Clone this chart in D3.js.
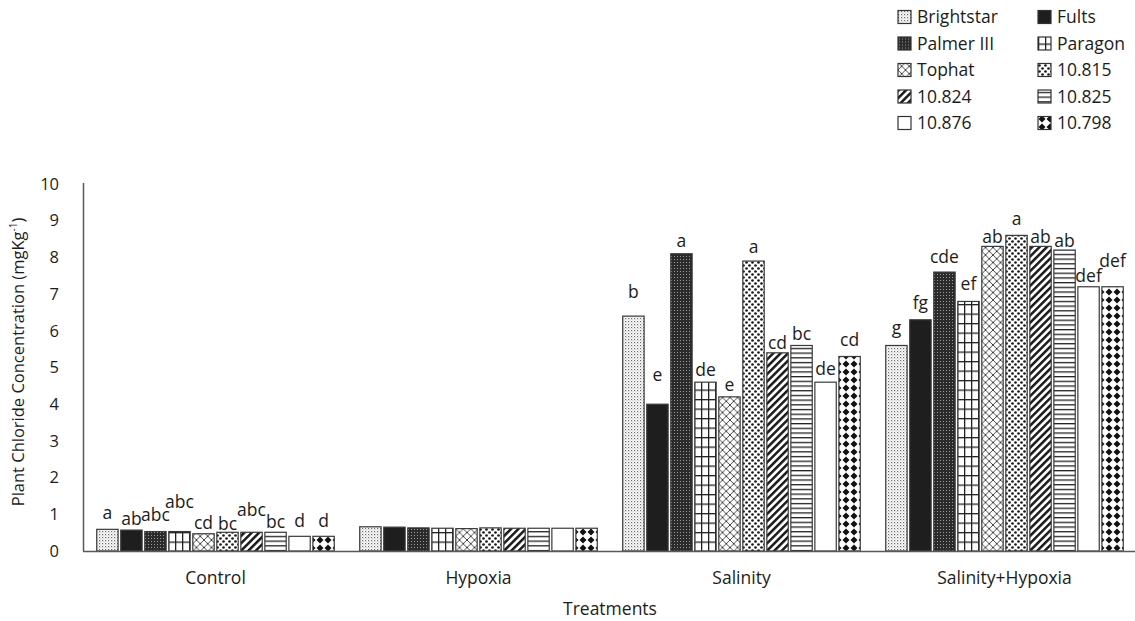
<!DOCTYPE html>
<html>
<head>
<meta charset="utf-8">
<script src="https://cdn.jsdelivr.net/npm/d3@7/dist/d3.min.js"></script>
<style>
  html, body { margin: 0; padding: 0; background: #fff; }
  svg { display: block; font-family: "Open Sans", "Noto Sans", sans-serif; }
</style>
</head>
<body>
<svg id="chart" width="1135" height="621"></svg>
<script>
// Treatments (x-axis groups) and cultivars (bars within each group)
const treatments = ["Control", "Hypoxia", "Salinity", "Salinity+Hypoxia"];
const cultivars = ["Brightstar", "Fults", "Palmer III", "Paragon", "Tophat",
                   "10.815", "10.824", "10.825", "10.876", "10.798"];

// Plant chloride concentration (mg kg-1), one array per treatment, in cultivar order
const controlValues  = [0.59, 0.57, 0.53, 0.53, 0.47, 0.51, 0.51, 0.51, 0.40, 0.40];
const hypoxiaValues  = [0.66, 0.65, 0.63, 0.62, 0.61, 0.63, 0.62, 0.62, 0.62, 0.62];
const salinityValues = [6.4, 4.0, 8.1, 4.6, 4.2, 7.9, 5.4, 5.6, 4.6, 5.3];
const salHypValues   = [5.6, 6.3, 7.6, 6.8, 8.3, 8.6, 8.3, 8.2, 7.2, 7.2];

// Mean separation letters
const controlLetters  = ["a", "ab", "abc", "abc", "cd", "bc", "abc", "bc", "d", "d"];
const hypoxiaLetters  = ["", "", "", "", "", "", "", "", "", ""];
const salinityLetters = ["b", "e", "a", "de", "e", "a", "cd", "bc", "de", "cd"];
const salHypLetters   = ["g", "fg", "cde", "ef", "ab", "a", "ab", "ab", "def", "def"];

const yTicks = [0, 1, 2, 3, 4, 5, 6, 7, 8, 9, 10];

// Layout: how far each letter sits above its bar (px), per treatment
const letterRaise = [
  [16, 11, 17, 30, 11, 8, 22, 10, 15, 15],
  [0, 0, 0, 0, 0, 0, 0, 0, 0, 0],
  [24, 29, 13, 12, 12, 14, 10, 12, 13, 17],
  [18, 17, 15, 18, 10, 17, 10, 9, 11, 26]
];

const valuesByTreatment = [controlValues, hypoxiaValues, salinityValues, salHypValues];
const lettersByTreatment = [controlLetters, hypoxiaLetters, salinityLetters, salHypLetters];

const rows = treatments.map((t, i) => ({
  treatment: t,
  bars: cultivars.map((c, j) => ({
    cultivar: c, idx: j,
    value: valuesByTreatment[i][j],
    letter: lettersByTreatment[i][j],
    raise: letterRaise[i][j]
  }))
}));

const svg = d3.select("#chart");
const plotLeft = 84, plotRight = 1136, plotTop = 184, plotBottom = 551;
const ink = "#1c1c1c";

const x0 = d3.scaleBand().domain(treatments).range([plotLeft, plotRight]).padding(0);
const x1 = d3.scaleBand().domain(cultivars).range([0, x0.bandwidth()])
  .paddingInner(0.11).paddingOuter(0.53);
const y = d3.scaleLinear().domain([0, 10]).range([plotBottom, plotTop]);

// ---- fill patterns, one per cultivar ----
const defs = svg.append("defs");
function pat(id, w, h, extra) {
  const p = defs.append("pattern").attr("id", id)
    .attr("patternUnits", "userSpaceOnUse").attr("width", w).attr("height", h);
  if (extra) p.attr("patternTransform", extra);
  p.append("rect").attr("width", w).attr("height", h).attr("fill", "#fff");
  return p;
}
// Brightstar: fine grey dots
let p = pat("p0", 3, 3);
p.append("rect").attr("x", 0).attr("y", 0).attr("width", 1.2).attr("height", 1.2).attr("fill", "#6a6a6a");
p.append("rect").attr("x", 1.5).attr("y", 1.5).attr("width", 1).attr("height", 1).attr("fill", "#a0a0a0");
// Fults: solid
p = pat("p1", 4, 4);
p.append("rect").attr("width", 4).attr("height", 4).attr("fill", "#1e1e1e");
// Palmer III: dark with fine light dots
p = pat("p2", 3, 3);
p.append("rect").attr("width", 3).attr("height", 3).attr("fill", "#2b2b2b");
p.append("rect").attr("x", 1).attr("y", 1).attr("width", 1).attr("height", 1).attr("fill", "#9a9a9a");
// Paragon: open grid
p = pat("p3", 7, 9.5);
p.append("rect").attr("x", 0).attr("y", 0).attr("width", 1.3).attr("height", 9.5).attr("fill", "#222");
p.append("rect").attr("x", 0).attr("y", 0).attr("width", 7).attr("height", 1.3).attr("fill", "#222");
// Tophat: diagonal lattice
p = pat("p4", 7.5, 7.5);
p.append("path").attr("d", "M0,0L7.5,7.5M7.5,0L0,7.5").attr("stroke", "#333").attr("stroke-width", 0.9);
// 10.815: large dots
p = pat("p5", 6, 6);
p.append("circle").attr("cx", 1.5).attr("cy", 1.5).attr("r", 1.35).attr("fill", "#1a1a1a");
p.append("circle").attr("cx", 4.5).attr("cy", 4.5).attr("r", 1.35).attr("fill", "#1a1a1a");
// 10.824: wide upward diagonal stripes
p = pat("p6", 5.2, 5.2, "rotate(45)");
p.append("rect").attr("width", 2.5).attr("height", 5.2).attr("fill", "#1a1a1a");
// 10.825: horizontal lines
p = pat("p7", 6, 4.7);
p.append("rect").attr("y", 0).attr("width", 6).attr("height", 1.3).attr("fill", "#222");
// 10.876: plain
pat("p8", 4, 4);
// 10.798: diamonds
p = pat("p9", 8, 8);
p.append("polygon").attr("points", "4,0.5 7.5,4 4,7.5 0.5,4").attr("fill", "#111");

const fillFor = i => `url(#p${i})`;

// ---- y axis ----
svg.append("line").attr("x1", plotLeft - 0.5).attr("x2", plotLeft - 0.5)
  .attr("y1", plotTop - 1).attr("y2", plotBottom)
  .attr("stroke", "#595959").attr("stroke-width", 1.5);

const yAxis = d3.axisLeft(y).tickValues(yTicks).tickSize(0).tickPadding(0);
const yg = svg.append("g").attr("transform", `translate(59,0)`).call(yAxis);
yg.select(".domain").remove();
yg.selectAll("text").attr("font-size", 16.5).attr("fill", ink)
  .attr("font-family", "'Open Sans', sans-serif");

// y axis title with superscript
const yt = svg.append("text")
  .attr("transform", "translate(24,362) rotate(-90)")
  .attr("text-anchor", "middle").attr("font-size", 16.5).attr("fill", ink);
yt.append("tspan").text("Plant Chloride Concentration (mgKg");
yt.append("tspan").attr("font-size", 10).attr("dy", -7).text("-1");
yt.append("tspan").attr("dy", 7).text(")");

// ---- bars ----
const groups = svg.append("g").selectAll("g").data(rows).join("g")
  .attr("transform", d => `translate(${x0(d.treatment)},0)`);

groups.selectAll("rect").data(d => d.bars).join("rect")
  .attr("x", d => x1(d.cultivar))
  .attr("y", d => y(d.value))
  .attr("width", x1.bandwidth())
  .attr("height", d => y(0) - y(d.value))
  .attr("fill", d => fillFor(d.idx))
  .attr("stroke", "#3a3a3a").attr("stroke-width", 1.2);

groups.selectAll("text.letter").data(d => d.bars.filter(b => b.letter)).join("text")
  .attr("class", "letter")
  .attr("x", d => x1(d.cultivar) + x1.bandwidth() / 2)
  .attr("y", d => y(d.value) - d.raise)
  .attr("dy", "0.35em")
  .attr("text-anchor", "middle").attr("font-size", 17.5).attr("fill", ink)
  .text(d => d.letter);

// ---- x axis ----
svg.append("line").attr("x1", plotLeft - 1).attr("x2", 1135)
  .attr("y1", plotBottom + 0.5).attr("y2", plotBottom + 0.5)
  .attr("stroke", "#595959").attr("stroke-width", 1.5);

const xAxis = d3.axisBottom(x0).tickSize(0).tickPadding(0);
const xg = svg.append("g").attr("transform", `translate(0,${plotBottom + 21})`).call(xAxis);
xg.select(".domain").remove();
xg.selectAll("text").attr("font-size", 17.5).attr("fill", ink)
  .attr("font-family", "'Open Sans', sans-serif");

svg.append("text").attr("x", 610).attr("y", 609).attr("dy", "0.35em")
  .attr("text-anchor", "middle").attr("font-size", 17.5).attr("fill", ink)
  .text("Treatments");

// ---- legend ----
const legend = svg.append("g");
const legItems = legend.selectAll("g").data(cultivars).join("g")
  .attr("transform", (d, i) => `translate(${i % 2 === 0 ? 898 : 1038},${17 + Math.floor(i / 2) * 26.5})`);
legItems.append("rect").attr("x", 0).attr("y", -6.5).attr("width", 13).attr("height", 13)
  .attr("fill", (d, i) => fillFor(i)).attr("stroke", "#333").attr("stroke-width", 1.2);
legItems.append("text").attr("x", 19).attr("dy", "0.35em")
  .attr("font-size", 17.5).attr("fill", ink).text(d => d);
</script>
</body>
</html>
